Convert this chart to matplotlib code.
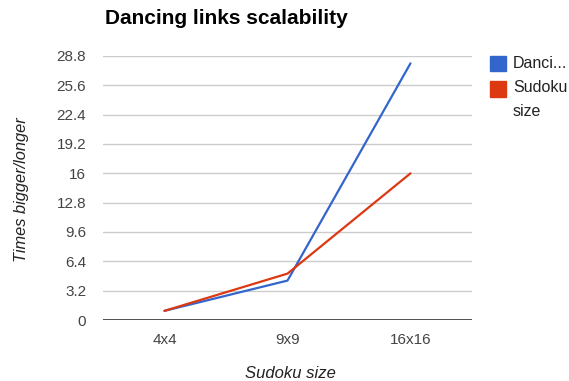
import matplotlib.pyplot as plt
from matplotlib.patches import Rectangle

plt.rcParams["font.family"] = ["Liberation Sans", "DejaVu Sans"]

categories = ["4x4", "9x9", "16x16"]
dancing_links = [1, 4.3, 28]
sudoku_size = [1, 5.06, 16]
y_ticks = [0, 3.2, 6.4, 9.6, 12.8, 16, 19.2, 22.4, 25.6, 28.8]
y_tick_labels = ["0", "3.2", "6.4", "9.6", "12.8", "16", "19.2", "22.4", "25.6", "28.8"]

W, H = 569, 381
fig = plt.figure(figsize=(W / 100, H / 100), dpi=100)
ax = fig.add_axes([103 / W, 1 - 320 / H, 369 / W, 264 / H])

x = list(range(len(categories)))
ax.plot(x, dancing_links, color="#3366cc", lw=1.6, solid_capstyle="round", zorder=3)
ax.plot(x, sudoku_size, color="#dc3912", lw=1.6, solid_capstyle="round", zorder=4)

ax.set_xlim(-0.5, 2.5)
ax.set_ylim(0, 28.8)
ax.set_yticks(y_ticks)
ax.set_yticklabels(y_tick_labels)
ax.set_xticks(x)
ax.set_xticklabels(categories)
ax.tick_params(length=0, labelsize=11, colors="#444444")
ax.tick_params(axis="y", pad=12)
ax.tick_params(axis="x", pad=9)
for s in ax.spines.values():
    s.set_visible(False)
ax.grid(axis="y", color="#cccccc", lw=1)
ax.axhline(0, color="#333333", lw=1.2, zorder=2)

fig.text(105 / W, 1 - 19 / H, "Dancing links scalability", fontsize=15,
         fontweight="bold", va="center", ha="left", color="#000000")
fig.text(22 / W, 1 - 190 / H, "Times bigger/longer", rotation=90, fontsize=11.8,
         style="italic", va="center", ha="center", color="#222222")
fig.text(290 / W, 1 - 373 / H, "Sudoku size", fontsize=12, style="italic",
         va="center", ha="center", color="#222222")

# legend
fig.patches.append(Rectangle((490 / W, 1 - 71 / H), 16 / W, 15 / H,
                             transform=fig.transFigure, color="#3366cc"))
fig.text(513 / W, 1 - 63 / H, "Danci...", fontsize=11.5, va="center", color="#222222")
fig.patches.append(Rectangle((490 / W, 1 - 97 / H), 16 / W, 16 / H,
                             transform=fig.transFigure, color="#dc3912"))
fig.text(513 / W, 1 - 88 / H, "Sudoku", fontsize=11.5, va="center", color="#222222")
fig.text(513 / W, 1 - 111 / H, "size", fontsize=11.5, va="center", color="#222222")

fig.savefig("out.png", dpi=100)
